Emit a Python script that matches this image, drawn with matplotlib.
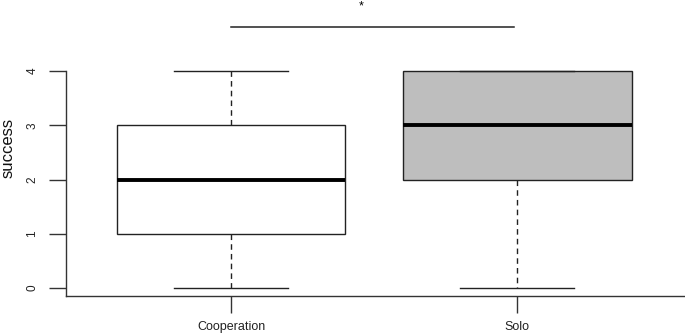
import matplotlib
matplotlib.use("Agg")
import matplotlib.pyplot as plt

plt.rcParams['font.family'] = ['Liberation Sans', 'DejaVu Sans']

groups = ["Cooperation", "Solo"]
whisk_low = [0, 0]
q1 = [1, 2]
medians = [2, 3]
q3 = [3, 4]
whisk_high = [4, 4]
fills = ["white", "#bebebe"]
y_ticks = [0, 1, 2, 3, 4]
signif_label = "*"

fig = plt.figure(figsize=(6.85, 3.34), dpi=100)
ax = fig.add_axes([66/685, 38/334, 1 - 66/685, 1 - 38/334])

stats = []
for i, g in enumerate(groups):
    stats.append(dict(label=g, whislo=whisk_low[i], q1=q1[i], med=medians[i],
                      q3=q3[i], whishi=whisk_high[i], fliers=[]))

bp = ax.bxp(stats, positions=[1, 2], widths=0.8, patch_artist=True,
            showfliers=False,
            boxprops=dict(edgecolor="#222222", linewidth=1.0),
            medianprops=dict(color="black", linewidth=2.8, solid_capstyle="butt"),
            whiskerprops=dict(color="#222222", linewidth=1.0, linestyle=(0, (4, 3))),
            capprops=dict(color="#222222", linewidth=1.0),
            capwidths=0.4)
for patch, c in zip(bp['boxes'], fills):
    patch.set_facecolor(c)

ax.set_xlim(0.423, 2.587)
ax.set_ylim(-0.147, 5.31)

ax.spines['top'].set_visible(False)
ax.spines['right'].set_visible(False)
ax.spines['left'].set_bounds(-0.147, 4)
ax.spines['left'].set_linewidth(1.0)
ax.spines['bottom'].set_linewidth(1.0)
ax.spines['left'].set_color("#333333")
ax.spines['bottom'].set_color("#333333")

ax.set_yticks(y_ticks)
ax.set_yticklabels([str(t) for t in y_ticks], rotation=90, va='center', fontsize=8.5,
                   color="#222222")
ax.tick_params(axis='y', length=12, width=1.0, pad=8, direction='out', color="#333333")
ax.tick_params(axis='x', length=12, width=1.0, pad=6, direction='out', labelsize=9,
               color="#333333", labelcolor="#222222")
ax.set_xticks([1, 2])
ax.set_xticklabels(groups)
ax.set_ylabel("success", fontsize=12, labelpad=8, color="#111111")

ax.plot([1, 1.99], [4.81, 4.81], color="#222222", linewidth=1.1, clip_on=False)
ax.text(1.455, 5.2, signif_label, ha='center', va='center', fontsize=9)

fig.savefig("out.png", dpi=100)
